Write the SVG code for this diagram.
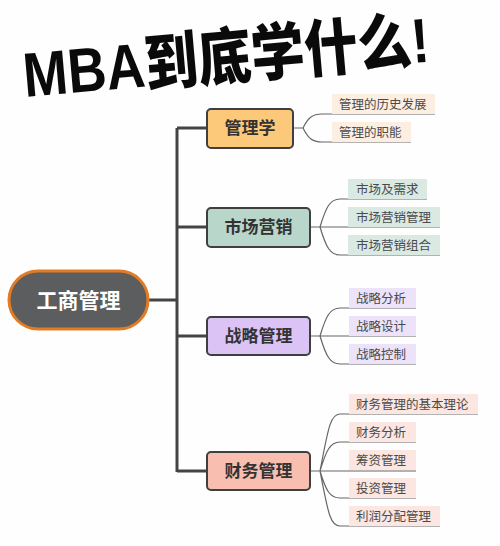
<svg xmlns="http://www.w3.org/2000/svg" width="500" height="546" viewBox="0 0 500 546">
<style>
.title{font-family:"Liberation Sans","Noto Sans CJK SC",sans-serif;font-weight:900;font-size:53px;fill:#0a0a0a}
.root{fill:#5b5d5e;stroke:#e37b25;stroke-width:3}
.rt{font-family:"Noto Sans CJK SC",sans-serif;font-weight:700;font-size:21px;fill:#ffffff;text-anchor:middle}
.br{stroke:#3f3f3f;stroke-width:2}
.bt{font-family:"Noto Sans CJK SC",sans-serif;font-weight:700;font-size:17px;fill:#333333;text-anchor:middle}
.lt{font-family:"Noto Sans CJK SC",sans-serif;font-size:12.5px;fill:#4a4a4a}
.trunk{fill:none;stroke:#444444;stroke-width:3}
.thin{fill:none;stroke:#666666;stroke-width:1.2}
</style>
<rect width="500" height="546" fill="#fefefe"/>
<text class="title" x="0" y="0" transform="translate(25 97) rotate(-5) scale(1.01 1.18)">MBA到底学什么!</text>

<g id="connectors">
<path class="trunk" d="M148 300 H177 M177 128 V472 M177 128 H207 M177 227 H207 M177 336 H207 M177 471 H207"/>
<path class="thin" d="M293 128 H303 M303 128 C308 118 312 114 322 114 H435 M303 128 C308 138 312 142 322 142 H411"/>
<path class="thin" d="M310 227 H320 M320 227 C326 207 330 199 340 199 H427 M320 227 H440 M320 227 C326 247 330 255 340 255 H440"/>
<path class="thin" d="M310 336 H320 M320 336 C326 316 330 308 340 308 H416 M320 336 H416 M320 336 C326 356 330 364 340 364 H416"/>
<path class="thin" d="M310 471 H320 M320 471 C328 430 330 414 340 414 H478 M320 471 C326 451 330 442 340 442 H416 M320 471 H416 M320 471 C326 491 330 498 340 498 H416 M320 471 C328 512 330 526 340 526 H440"/>
</g>

<g id="root">
<rect class="root" x="9" y="271" width="139" height="58" rx="29"/>
<text class="rt" x="78.5" y="308">工商管理</text>
</g>

<g id="b1">
<rect class="br" x="207" y="109" width="86" height="39" rx="4" fill="#fcc97a"/>
<text class="bt" x="250" y="134">管理学</text>
</g>
<g id="b2">
<rect class="br" x="207" y="208" width="103" height="39" rx="4" fill="#b9d6cb"/>
<text class="bt" x="258.5" y="233">市场营销</text>
</g>
<g id="b3">
<rect class="br" x="207" y="317" width="103" height="38" rx="4" fill="#dcc3f6"/>
<text class="bt" x="258.5" y="342">战略管理</text>
</g>
<g id="b4">
<rect class="br" x="207" y="452" width="103" height="38" rx="4" fill="#f8bfb0"/>
<text class="bt" x="258.5" y="477">财务管理</text>
</g>

<g id="l1a"><rect x="332" y="94" width="103" height="20" fill="#fcefe2"/><text class="lt" x="339" y="109">管理的历史发展</text></g>
<g id="l1b"><rect x="332" y="122" width="79" height="20" fill="#fcefe2"/><text class="lt" x="339" y="137">管理的职能</text></g>

<g id="l2a"><rect x="348" y="179" width="79" height="20" fill="#dbe9e3"/><text class="lt" x="356" y="194">市场及需求</text></g>
<g id="l2b"><rect x="348" y="207" width="92" height="20" fill="#dbe9e3"/><text class="lt" x="356" y="222">市场营销管理</text></g>
<g id="l2c"><rect x="348" y="235" width="92" height="20" fill="#dbe9e3"/><text class="lt" x="356" y="250">市场营销组合</text></g>

<g id="l3a"><rect x="349" y="288" width="67" height="20" fill="#ece2f9"/><text class="lt" x="356" y="303">战略分析</text></g>
<g id="l3b"><rect x="349" y="316" width="67" height="20" fill="#ece2f9"/><text class="lt" x="356" y="331">战略设计</text></g>
<g id="l3c"><rect x="349" y="344" width="67" height="20" fill="#ece2f9"/><text class="lt" x="356" y="359">战略控制</text></g>

<g id="l4a"><rect x="349" y="394" width="129" height="20" fill="#fbe6e1"/><text class="lt" x="356" y="409">财务管理的基本理论</text></g>
<g id="l4b"><rect x="349" y="422" width="67" height="20" fill="#fbe6e1"/><text class="lt" x="356" y="437">财务分析</text></g>
<g id="l4c"><rect x="349" y="450" width="67" height="20" fill="#fbe6e1"/><text class="lt" x="356" y="465">筹资管理</text></g>
<g id="l4d"><rect x="349" y="478" width="67" height="20" fill="#fbe6e1"/><text class="lt" x="356" y="493">投资管理</text></g>
<g id="l4e"><rect x="349" y="506" width="91" height="20" fill="#fbe6e1"/><text class="lt" x="356" y="521">利润分配管理</text></g>
</svg>
